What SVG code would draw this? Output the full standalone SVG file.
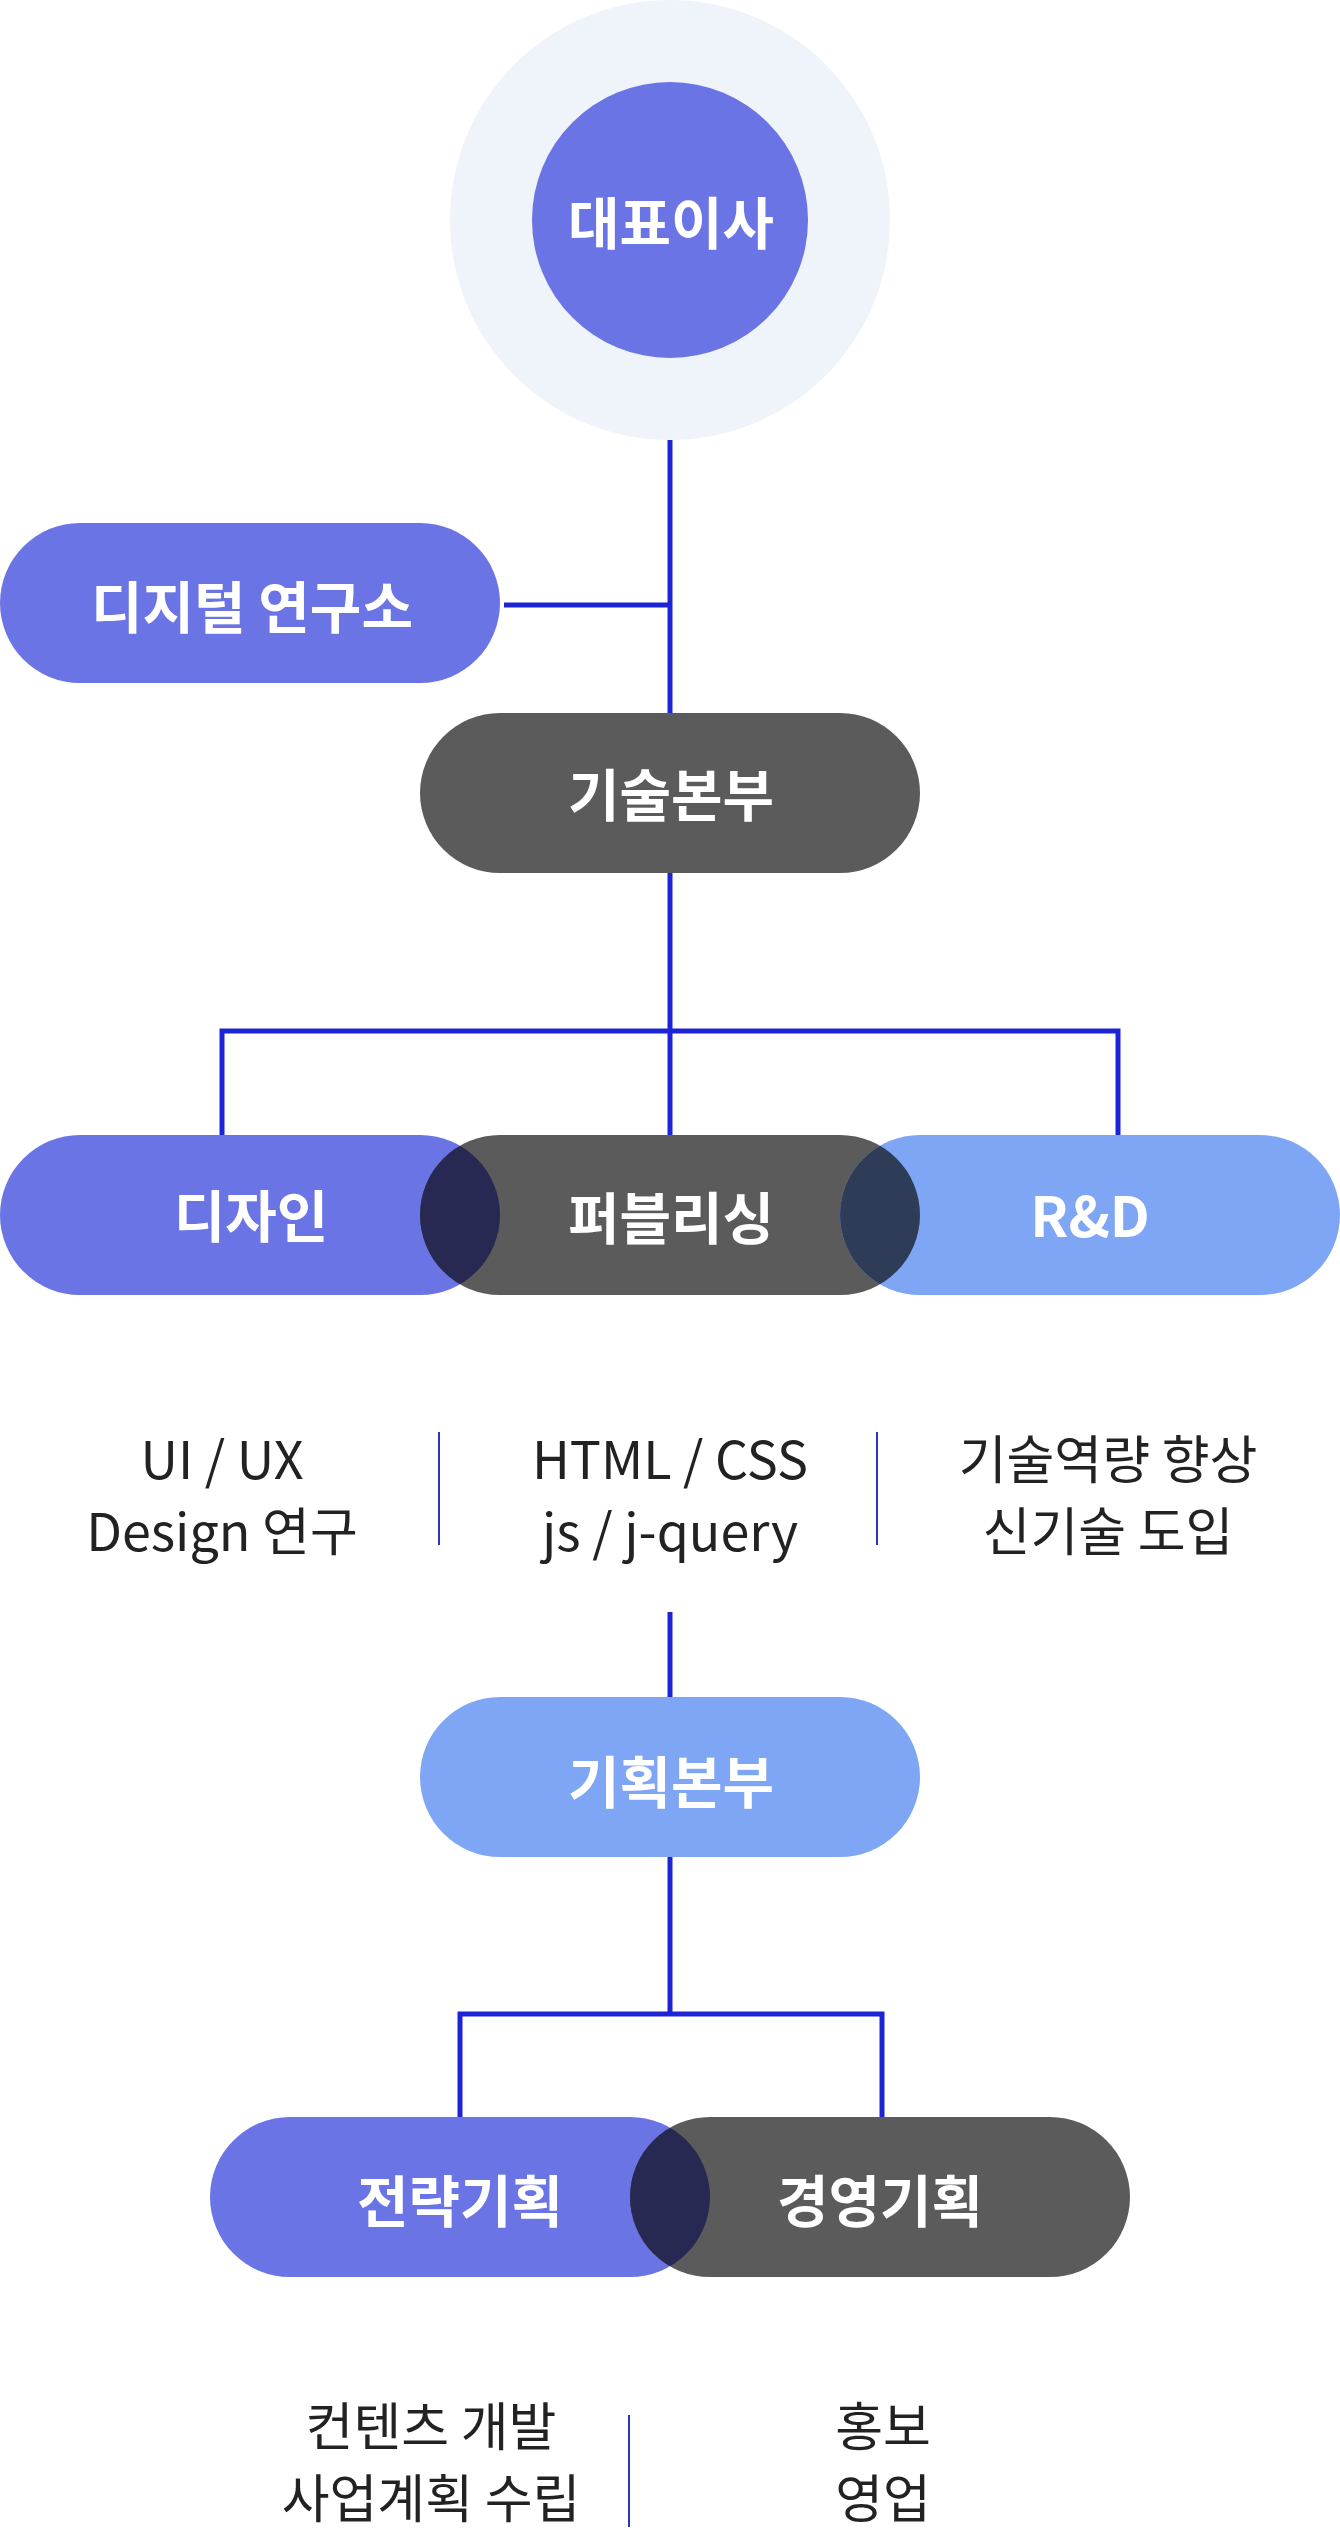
<svg xmlns="http://www.w3.org/2000/svg" width="1340" height="2532" viewBox="0 0 1340 2532">
  <defs>
    <style>
      .purple { fill: #6b74e4; }
      .gray { fill: #5b5b5b; }
      .light { fill: #7ea6f4; }
      .label { font-family: "Noto Sans CJK KR", "Noto Sans", sans-serif; font-weight: 700; font-size: 56px; fill: #ffffff; text-anchor: middle; }
      .desc { font-family: "Noto Sans CJK KR", "Noto Sans", sans-serif; font-weight: 400; font-size: 52px; fill: #222222; text-anchor: middle; }
      .conn { stroke: #1c24d6; stroke-width: 5; fill: none; }
      .sep { stroke: #2a36b5; stroke-width: 2; fill: none; }
    </style>
    <clipPath id="capL1"><circle cx="420" cy="1215" r="80"/></clipPath>
    <clipPath id="capL2"><circle cx="840" cy="1215" r="80"/></clipPath>
    <clipPath id="capL3"><circle cx="630" cy="2197" r="80"/></clipPath>
  </defs>
  <rect x="0" y="0" width="1340" height="2532" fill="#ffffff"/>

  <g id="connectors">
    <line class="conn" x1="670" y1="440" x2="670" y2="713"/>
    <line class="conn" x1="504" y1="605" x2="670" y2="605"/>
    <line class="conn" x1="670" y1="873" x2="670" y2="1135"/>
    <polyline class="conn" points="222,1135 222,1031 1118,1031 1118,1135"/>
    <line class="conn" x1="670" y1="1612" x2="670" y2="1697"/>
    <line class="conn" x1="670" y1="1857" x2="670" y2="2014"/>
    <polyline class="conn" points="460,2117 460,2014 882,2014 882,2117"/>
  </g>

  <g id="ceo">
    <circle cx="670" cy="220" r="220" fill="#eff3fa"/>
    <circle class="purple" cx="670" cy="220" r="138"/>
    <text class="label" x="671" y="244">대표이사</text>
  </g>

  <g id="digital-lab">
    <rect class="purple" x="0" y="523" width="500" height="160" rx="80"/>
    <text class="label" x="252" y="628">디지털 연구소</text>
  </g>

  <g id="tech-hq">
    <rect class="gray" x="420" y="713" width="500" height="160" rx="80"/>
    <text class="label" x="671" y="816">기술본부</text>
  </g>

  <g id="design">
    <rect class="purple" x="0" y="1135" width="500" height="160" rx="80"/>
    <text class="label" x="251" y="1237">디자인</text>
  </g>

  <g id="publishing">
    <rect class="gray" x="420" y="1135" width="500" height="160" rx="80"/>
    <circle cx="500" cy="1215" r="80" fill="#282952" clip-path="url(#capL1)"/>
    <text class="label" x="671" y="1239">퍼블리싱</text>
  </g>

  <g id="rnd">
    <rect class="light" x="840" y="1135" width="500" height="160" rx="80"/>
    <circle cx="920" cy="1215" r="80" fill="#2e3c58" clip-path="url(#capL2)"/>
    <text class="label" x="1090" y="1237">R&amp;D</text>
  </g>

  <g id="tech-desc">
    <text class="desc" x="222" y="1479">UI / UX</text>
    <text class="desc" x="222" y="1551">Design 연구</text>
    <line class="sep" x1="439" y1="1432" x2="439" y2="1545"/>
    <text class="desc" x="670" y="1479">HTML / CSS</text>
    <text class="desc" x="670" y="1551">js / j-query</text>
    <line class="sep" x1="877" y1="1432" x2="877" y2="1545"/>
    <text class="desc" x="1108" y="1479">기술역량 향상</text>
    <text class="desc" x="1108" y="1551">신기술 도입</text>
  </g>

  <g id="planning-hq">
    <rect class="light" x="420" y="1697" width="500" height="160" rx="80"/>
    <text class="label" x="671" y="1803">기획본부</text>
  </g>

  <g id="strategy">
    <rect class="purple" x="210" y="2117" width="500" height="160" rx="80"/>
    <text class="label" x="460" y="2222">전략기획</text>
  </g>

  <g id="management">
    <rect class="gray" x="630" y="2117" width="500" height="160" rx="80"/>
    <circle cx="710" cy="2197" r="80" fill="#282952" clip-path="url(#capL3)"/>
    <text class="label" x="880" y="2222">경영기획</text>
  </g>

  <g id="planning-desc">
    <text class="desc" x="431" y="2446">컨텐츠 개발</text>
    <text class="desc" x="431" y="2518">사업계획 수립</text>
    <line class="sep" x1="629" y1="2415" x2="629" y2="2527"/>
    <text class="desc" x="883" y="2446">홍보</text>
    <text class="desc" x="883" y="2518">영업</text>
  </g>
</svg>
